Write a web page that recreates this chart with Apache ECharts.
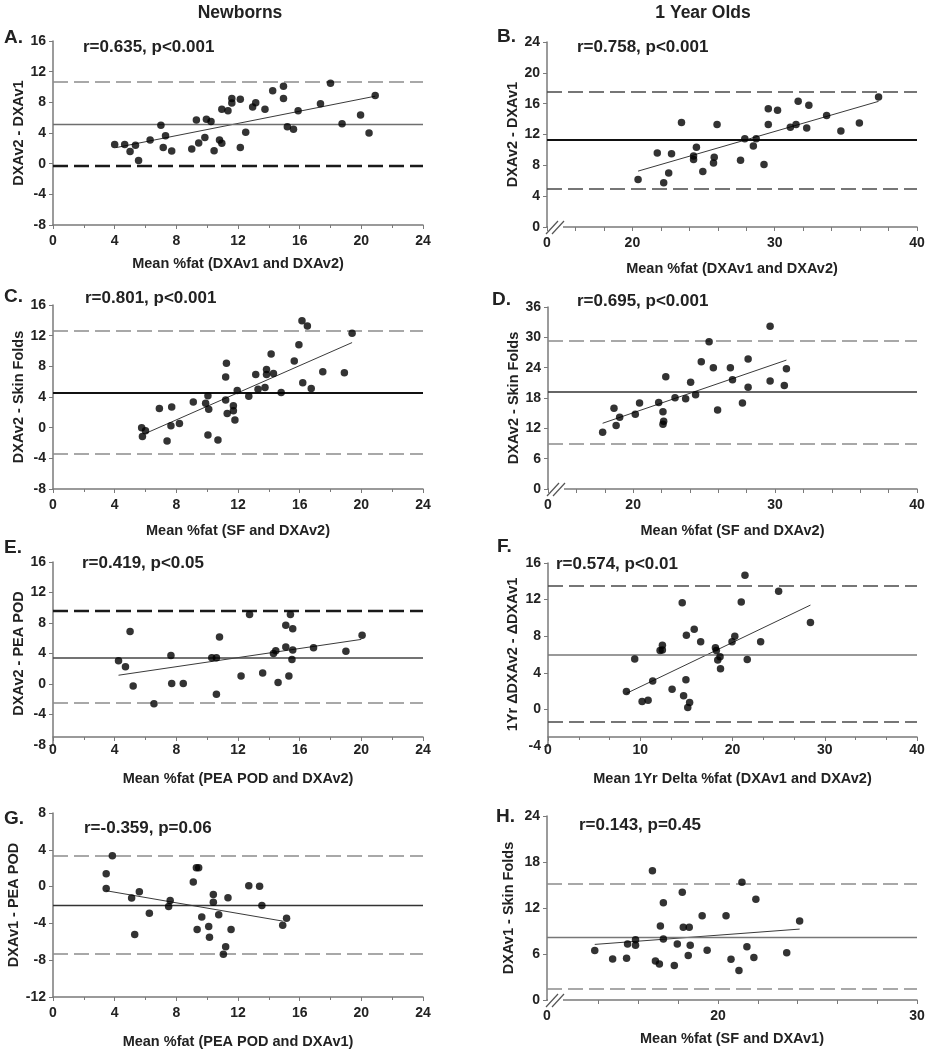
<!DOCTYPE html>
<html>
<head>
<meta charset="utf-8">
<script src="https://cdn.jsdelivr.net/npm/echarts@6/dist/echarts.min.js"></script>
<style>
  html, body { margin: 0; background: #fff; }
  #chart { width: 929px; height: 1050px; }
</style>
</head>
<body>
<div id="chart"></div>
<script>
// ---- data ----
const headers = ['Newborns', '1 Year Olds'];
const letters = ['A.', 'B.', 'C.', 'D.', 'E.', 'F.', 'G.', 'H.'];
const rTexts = ['r=0.635, p<0.001', 'r=0.758, p<0.001', 'r=0.801, p<0.001', 'r=0.695, p<0.001',
                'r=0.419, p<0.05', 'r=0.574, p<0.01', 'r=-0.359, p=0.06', 'r=0.143, p=0.45'];
const xNames = ['Mean %fat (DXAv1 and DXAv2)', 'Mean %fat (DXAv1 and DXAv2)',
                'Mean %fat (SF and DXAv2)', 'Mean %fat (SF and DXAv2)',
                'Mean %fat (PEA POD and DXAv2)', 'Mean 1Yr Delta %fat (DXAv1 and DXAv2)',
                'Mean %fat (PEA POD and DXAv1)', 'Mean %fat (SF and DXAv1)'];
const yNames = ['DXAv2 - DXAv1', 'DXAv2 - DXAv1', 'DXAv2 - Skin Folds', 'DXAv2 - Skin Folds',
                'DXAv2 - PEA POD', '1Yr \u0394DXAv2 - \u0394DXAv1', 'DXAv1 - PEA POD', 'DXAv1 - Skin Folds'];

// [mean, upper limit, lower limit]
const limA = [5.2, 10.7, -0.3];
const limB = [11.35, 17.6, 4.9];
const limC = [4.5, 12.7, -3.45];
const limD = [19.2, 29.4, 8.95];
const limE = [3.5, 9.65, -2.5];
const limF = [6.0, 13.55, -1.35];
const limG = [-2.0, 3.4, -7.35];
const limH = [8.2, 15.2, 1.5];

// regression line end points
const trendA = [[4.1, 2.1], [20.9, 8.8]];
const trendB = [[20.4, 7.25], [37.3, 16.3]];
const trendC = [[6.0, -0.75], [19.4, 11.1]];
const trendD = [[17.85, 13.0], [30.8, 25.5]];
const trendE = [[4.25, 1.15], [20.0, 5.85]];
const trendF = [[8.5, 1.75], [28.45, 11.4]];
const trendG = [[3.45, -0.45], [14.9, -3.75]];
const trendH = [[13.8, 7.25], [24.1, 9.25]];

const ptsA = [[4.0,2.5],[4.65,2.5],[5.0,1.6],[5.35,2.4],[5.55,0.4],[6.3,3.1],[7.0,5.0],[7.15,2.1],[7.3,3.65],
  [7.7,1.65],[9.0,1.9],[9.3,5.7],[9.45,2.7],[9.85,3.4],[9.95,5.8],[10.25,5.5],[10.45,1.7],[10.8,3.1],
  [10.95,2.65],[10.95,7.1],[11.35,6.9],[11.6,8.5],[11.6,7.9],[12.15,8.4],[12.15,2.1],[12.5,4.1],
  [12.95,7.4],[13.15,7.95],[13.75,7.1],[14.25,9.5],[14.95,10.1],[14.95,8.5],[15.2,4.8],[15.6,4.5],
  [15.9,6.9],[17.35,7.8],[18.0,10.5],[18.75,5.2],[19.95,6.35],[20.5,4.0],[20.9,8.9]];
const ptsB = [[20.4,6.15],[21.75,9.6],[22.2,5.75],[22.55,7.0],[22.75,9.5],[23.45,13.55],[24.3,9.2],
  [24.3,8.75],[24.5,10.35],[24.95,7.2],[25.7,8.3],[25.75,9.05],[25.95,13.3],[27.6,8.65],[27.9,11.45],
  [28.5,10.5],[28.7,11.45],[29.25,8.1],[29.55,15.35],[29.55,13.3],[30.2,15.15],[31.1,12.95],[31.5,13.3],
  [31.65,16.3],[32.25,12.85],[32.4,15.8],[33.65,14.45],[34.65,12.45],[35.95,13.5],[37.3,16.85]];
const ptsC = [[5.75,0.0],[5.8,-1.15],[6.0,-0.4],[6.9,2.5],[7.4,-1.75],[7.65,0.25],[7.7,2.7],[8.2,0.55],
  [9.1,3.35],[9.9,3.2],[10.05,4.15],[10.1,2.4],[10.05,-0.95],[10.7,-1.6],[11.2,3.6],[11.2,6.6],
  [11.25,8.4],[11.3,1.85],[11.7,2.85],[11.7,2.2],[11.8,1.0],[11.95,4.85],[12.7,4.1],[13.15,6.95],
  [13.3,5.0],[13.75,5.25],[13.85,7.6],[13.85,6.95],[14.15,9.6],[14.3,7.05],[14.8,4.6],[15.65,8.7],
  [15.95,10.8],[16.15,13.95],[16.2,5.85],[16.5,13.25],[16.75,5.1],[17.5,7.3],[18.9,7.15],[19.4,12.3]];
const ptsD = [[17.85,11.25],[18.65,15.95],[18.8,12.55],[19.05,14.2],[20.15,14.8],[20.45,17.0],
  [21.8,17.1],[22.1,15.3],[22.1,12.8],[22.15,13.4],[22.3,22.2],[22.95,18.05],[23.7,17.85],[24.05,21.1],
  [24.4,18.65],[24.8,25.15],[25.35,29.15],[25.65,24.0],[25.95,15.65],[26.85,24.0],[27.0,21.6],
  [27.7,17.0],[28.1,25.7],[28.1,20.15],[29.65,32.2],[29.65,21.35],[30.65,20.45],[30.8,23.8]];
const ptsE = [[4.25,3.05],[4.7,2.25],[5.0,6.9],[5.2,-0.25],[6.55,-2.6],[7.65,3.75],[7.7,0.05],[8.45,0.05],
  [10.3,3.45],[10.6,3.45],[10.6,-1.35],[10.8,6.15],[12.2,1.05],[12.75,9.1],[13.6,1.45],[14.3,4.0],
  [14.45,4.35],[14.6,0.2],[15.1,7.7],[15.1,4.85],[15.3,1.05],[15.4,9.1],[15.5,3.2],[15.55,7.25],
  [15.55,4.45],[16.9,4.75],[19.0,4.3],[20.05,6.4]];
const ptsF = [[8.5,1.95],[9.4,5.5],[10.2,0.85],[10.85,1.0],[11.35,3.1],[12.15,6.45],[12.4,7.0],[12.4,6.5],
  [13.45,2.2],[14.55,11.65],[14.7,1.5],[14.95,3.25],[15.0,8.1],[15.15,0.2],[15.35,0.75],[15.85,8.75],
  [16.55,7.4],[18.15,6.75],[18.25,6.45],[18.4,5.4],[18.65,5.75],[18.7,4.45],[19.95,7.4],[20.25,8.0],
  [20.95,11.75],[21.35,14.65],[21.6,5.45],[23.05,7.4],[25.0,12.9],[28.45,9.5]];
const ptsG = [[3.45,1.4],[3.45,-0.2],[3.85,3.35],[5.1,-1.25],[5.3,-5.2],[5.6,-0.55],[6.25,-2.9],
  [7.5,-2.15],[7.6,-1.5],[9.1,0.5],[9.3,2.05],[9.45,2.05],[9.35,-4.65],[9.65,-3.3],[10.1,-4.35],
  [10.15,-5.5],[10.4,-0.85],[10.4,-1.7],[10.75,-3.05],[11.05,-7.35],[11.2,-6.55],[11.35,-1.2],
  [11.55,-4.65],[12.7,0.1],[13.4,0.05],[13.55,-2.05],[14.9,-4.2],[15.15,-3.45]];
const ptsH = [[13.8,6.45],[14.7,5.35],[15.4,5.45],[15.45,7.3],[15.85,7.85],[15.85,7.15],[16.7,16.85],
  [16.85,5.1],[17.05,4.7],[17.1,9.65],[17.25,12.7],[17.25,7.95],[17.8,4.5],[17.95,7.3],[18.2,14.05],
  [18.25,9.5],[18.55,9.5],[18.5,5.8],[18.6,7.15],[19.2,11.0],[19.45,6.5],[20.4,11.0],[20.65,5.3],
  [21.05,3.85],[21.2,15.35],[21.45,6.95],[21.8,5.55],[21.9,13.15],[23.45,6.15],[24.1,10.3]];

// axis ranges
const xRanges = [[0,24,4],[14,40,2],[0,24,4],[14,40,2],[0,24,4],[0,40,10],[0,24,4],[11.4,30,2]];
const yRanges = [[-8,16,4],[0,24,4],[-8,16,4],[0,36,6],[-8,16,4],[-4,16,4],[-12,8,4],[0,24,6]];
const brokenXLabels = [20, 30, 40];
const hTicks = [14, 16, 18, 20, 22, 24, 26, 28, 30];
const hLabels = [11.4, 20, 30];

// ---- layout / styles ----
const FONT = '"Liberation Sans", Arial, Helvetica, sans-serif';
const grids = [
  {left: 53, top: 41, width: 370, height: 184},
  {left: 547, top: 42, width: 370, height: 185},
  {left: 53, top: 305, width: 370, height: 184},
  {left: 548, top: 307, width: 369, height: 182},
  {left: 53, top: 562, width: 370, height: 183},
  {left: 548, top: 563, width: 369, height: 183},
  {left: 53, top: 813, width: 370, height: 185},
  {left: 547, top: 816, width: 370, height: 184}
];
const xNameGap = [31, 34, 34, 34, 34, 34, 37, 31];
const yNameGap = [25, 26, 25, 27, 27, 28, 31, 31];
const xOffset = [0, 0, 0, 0, -8, -9, 0, 0];

const GRAY_DASH = {type: [15, 6], color: '#8c8c8c', width: 1.6};
const MID_DASH = {type: [15, 6], color: '#4a4a4a', width: 1.6};
const DARK_DASH = {type: [15, 6], color: '#1a1a1a', width: 2.3};
const limStyles = [
  [{type: 'solid', color: '#6e6e6e', width: 1.3}, GRAY_DASH, DARK_DASH],
  [{type: 'solid', color: '#111', width: 2}, MID_DASH, MID_DASH],
  [{type: 'solid', color: '#111', width: 2}, GRAY_DASH, GRAY_DASH],
  [{type: 'solid', color: '#333', width: 1.5}, GRAY_DASH, GRAY_DASH],
  [{type: 'solid', color: '#444', width: 1.5}, DARK_DASH, GRAY_DASH],
  [{type: 'solid', color: '#777', width: 1.5}, MID_DASH, MID_DASH],
  [{type: 'solid', color: '#333', width: 1.3}, GRAY_DASH, GRAY_DASH],
  [{type: 'solid', color: '#777', width: 1.3}, GRAY_DASH, GRAY_DASH]
];

const allPts = [ptsA, ptsB, ptsC, ptsD, ptsE, ptsF, ptsG, ptsH];
const allTrend = [trendA, trendB, trendC, trendD, trendE, trendF, trendG, trendH];
const allLim = [limA, limB, limC, limD, limE, limF, limG, limH];

const AXIS_COLOR = '#7a7a7a';
const LABEL_COLOR = '#222';

const xAxes = [], yAxes = [], series = [];
for (let i = 0; i < 8; i++) {
  const [xmin, xmax, xint] = xRanges[i];
  const xa = {
    type: 'value', gridIndex: i, min: xmin, max: xmax,
    splitLine: {show: false},
    offset: xOffset[i],
    axisLine: {show: true, onZero: false, lineStyle: {color: AXIS_COLOR, width: 1.5}},
    axisTick: {show: true, length: 4, lineStyle: {color: AXIS_COLOR}},
    axisLabel: {color: LABEL_COLOR, fontWeight: 'bold', fontSize: 14, fontFamily: FONT,
                margin: xOffset[i] ? 6 : 9},
    name: xNames[i], nameLocation: 'middle', nameGap: xNameGap[i],
    nameTextStyle: {color: LABEL_COLOR, fontWeight: 'bold', fontSize: 14.5, fontFamily: FONT}
  };
  if (i === 7) {
    xa.axisTick.customValues = hTicks;
    xa.axisLabel.customValues = hLabels;
    xa.axisLabel.formatter = v => (v < 12 ? '0' : String(v));
  } else if (xmin === 14) {
    xa.interval = xint;
    xa.axisLabel.formatter = v => (v === xmin ? '0' : (brokenXLabels.includes(v) ? String(v) : ''));
  } else {
    xa.interval = xint;
    xa.minorTick = {show: true, splitNumber: xint === 10 ? 3 : 2, length: 3,
                    lineStyle: {color: AXIS_COLOR}};
  }
  xAxes.push(xa);

  const [ymin, ymax, yint] = yRanges[i];
  yAxes.push({
    type: 'value', gridIndex: i, min: ymin, max: ymax, interval: yint,
    splitLine: {show: false},
    axisLine: {show: true, onZero: false, lineStyle: {color: AXIS_COLOR, width: 1.5}},
    axisTick: {show: true, length: 4, lineStyle: {color: AXIS_COLOR}},
    axisLabel: {color: LABEL_COLOR, fontWeight: 'bold', fontSize: 14, fontFamily: FONT, margin: 7},
    name: yNames[i], nameLocation: 'middle', nameGap: yNameGap[i],
    nameTextStyle: {color: LABEL_COLOR, fontWeight: 'bold', fontSize: 14.5, fontFamily: FONT}
  });

  const lim = allLim[i];
  series.push({
    type: 'line', xAxisIndex: i, yAxisIndex: i,
    data: allTrend[i], symbol: 'none', silent: true, z: 3,
    lineStyle: {color: '#3a3a3a', width: 1}
  });
  series.push({
    type: 'scatter', xAxisIndex: i, yAxisIndex: i,
    data: allPts[i], symbol: 'circle', symbolSize: 7.5, z: 5,
    itemStyle: {color: '#000'},
    markLine: {
      silent: true, symbol: 'none', label: {show: false}, animation: false,
      data: lim.map((v, k) => ({yAxis: v, lineStyle: limStyles[i][k]}))
    }
  });
}

// text + axis-break decorations
const graphic = [];
const headerPos = [[240, 13], [703, 13]];
headers.forEach((t, k) => graphic.push({
  type: 'text', x: headerPos[k][0], y: headerPos[k][1], z: 10,
  style: {text: t, font: `bold 17.5px ${FONT}`, fill: '#222', align: 'center', verticalAlign: 'middle'}
}));
const letterPos = [[4, 28], [497, 27], [4, 287], [492, 290], [4, 538], [497, 537], [4, 809], [496, 807]];
letters.forEach((t, k) => graphic.push({
  type: 'text', x: letterPos[k][0], y: letterPos[k][1], z: 10,
  style: {text: t, font: `bold 19px ${FONT}`, fill: '#222'}
}));
const rPos = [[83, 39], [577, 39], [85, 290], [577, 293], [82, 555], [556, 556], [84, 820], [579, 817]];
rTexts.forEach((t, k) => graphic.push({
  type: 'text', x: rPos[k][0], y: rPos[k][1], z: 10,
  style: {text: t, font: `bold 17px ${FONT}`, fill: '#222'}
}));
// "//" break marks at the start of the shortened x axes (B, D, H)
[1, 3, 7].forEach(i => {
  const x0 = grids[i].left, y0 = grids[i].top + grids[i].height;
  graphic.push({type: 'rect', z: 20, shape: {x: x0 + 1, y: y0 - 3, width: 15, height: 6},
                style: {fill: '#fff'}});
  graphic.push({type: 'line', z: 21, shape: {x1: x0 - 1, y1: y0 + 7, x2: x0 + 11, y2: y0 - 6},
                style: {stroke: '#555', lineWidth: 1.2}});
  graphic.push({type: 'line', z: 21, shape: {x1: x0 + 5, y1: y0 + 7, x2: x0 + 17, y2: y0 - 6},
                style: {stroke: '#555', lineWidth: 1.2}});
});

const chart = echarts.init(document.getElementById('chart'));
chart.setOption({
  backgroundColor: '#fff',
  animation: false,
  grid: grids,
  xAxis: xAxes,
  yAxis: yAxes,
  series: series,
  graphic: graphic
});
</script>
</body>
</html>
